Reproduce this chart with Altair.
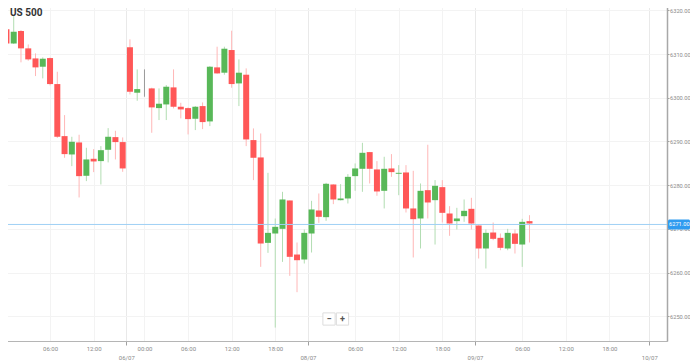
import altair as alt
import pandas as pd

# ---- data (hourly candles) ----
slot = list(range(73))
open_ = [6315.65, 6312.44, 6315.27, 6311.30, 6309.00, 6307.10, 6309.08, 6303.13, 6291.22, 6287.02,
         6289.77, 6282.14, 6286.03, 6285.50, 6288.09, 6290.99, 6289.85, 6311.53, 6301.15, 6302.20,
         6302.14, 6297.63, 6298.47, 6302.37, 6297.94, 6297.63, 6295.19, 6298.09, 6294.58, 6306.95,
         6305.73, 6310.92, 6303.28, 6305.27, 6290.31, 6286.34, 6266.79, 6268.93, 6270.00, 6276.49,
         6264.12, 6262.98, 6268.93, 6274.20, 6272.67, 6280.15, 6276.56, 6276.95, 6282.06, 6283.74,
         6287.56, 6283.59, 6278.70, 6283.82, 6282.60, 6282.90, 6274.66, 6272.37, 6278.85, 6276.56,
         6279.54, 6273.51, 6271.76, 6272.90, 6274.58, 6270.76, 6265.50, 6269.16, 6267.94, 6265.50,
         6268.93, 6266.41, 6271.76]
high = [6316.30, 6318.70, 6315.50, 6312.20, 6310.15, 6309.24, 6309.20, 6305.95, 6296.03, 6291.07,
        6291.53, 6288.55, 6288.24, 6288.93, 6293.05, 6292.44, 6290.92, 6313.36, 6306.49, 6306.49,
        6302.30, 6302.14, 6302.90, 6306.49, 6298.85, 6297.80, 6298.09, 6298.93, 6307.25, 6311.68,
        6311.68, 6315.34, 6308.78, 6306.72, 6292.98, 6291.83, 6282.82, 6272.37, 6278.47, 6276.50,
        6266.87, 6269.85, 6276.41, 6278.09, 6280.53, 6280.20, 6280.23, 6282.52, 6284.96, 6289.69,
        6287.60, 6285.50, 6286.49, 6287.10, 6284.58, 6284.58, 6283.28, 6280.38, 6289.24, 6281.15,
        6281.15, 6275.19, 6274.81, 6276.72, 6277.10, 6270.80, 6269.85, 6271.45, 6268.93, 6270.00,
        6269.85, 6272.29, 6273.13]
low = [6312.00, 6312.30, 6308.10, 6308.47, 6304.96, 6304.43, 6302.82, 6290.80, 6286.26, 6284.35,
       6277.18, 6280.92, 6282.98, 6280.15, 6285.20, 6285.88, 6283.05, 6300.76, 6299.31, 6300.23,
       6291.98, 6294.89, 6294.89, 6297.56, 6295.27, 6291.60, 6292.60, 6292.82, 6293.51, 6305.50,
       6305.27, 6302.29, 6298.09, 6288.93, 6281.15, 6261.30, 6264.50, 6247.40, 6262.44, 6259.24,
       6255.50, 6262.06, 6264.58, 6271.37, 6271.83, 6275.65, 6276.50, 6275.80, 6278.70, 6278.47,
       6280.38, 6277.56, 6274.66, 6281.90, 6277.70, 6273.74, 6263.44, 6265.50, 6272.37, 6266.41,
       6271.45, 6268.40, 6269.85, 6271.60, 6269.85, 6263.21, 6260.92, 6267.40, 6265.11, 6265.10,
       6264.35, 6261.30, 6266.87]
close = [6312.44, 6315.10, 6311.30, 6308.78, 6306.95, 6308.93, 6303.13, 6291.07, 6287.10, 6289.92,
         6282.06, 6285.88, 6285.42, 6288.00, 6291.07, 6289.85, 6283.82, 6301.37, 6301.98, 6302.20,
         6297.79, 6298.63, 6302.52, 6297.94, 6297.33, 6295.11, 6297.94, 6294.43, 6307.10, 6305.57,
         6311.22, 6303.13, 6305.73, 6290.46, 6286.26, 6266.64, 6269.08, 6270.46, 6276.72, 6263.59,
         6262.82, 6269.08, 6274.43, 6272.75, 6280.31, 6276.72, 6276.95, 6281.90, 6283.82, 6287.40,
         6283.74, 6278.55, 6283.74, 6282.98, 6282.82, 6274.66, 6272.21, 6278.70, 6276.03, 6279.85,
         6273.66, 6271.22, 6272.37, 6274.12, 6271.22, 6265.50, 6269.08, 6267.71, 6265.65, 6269.08,
         6266.56, 6271.60, 6271.22]

tick_pos = [6, 12, 16.5, 19, 25, 31, 37, 41.5, 48, 54, 60, 64.5, 71, 77, 83, 88.5]
tick_labels = ["06:00", "12:00", "06/07", "00:00", "06:00", "12:00", "18:00", "08/07",
               "06:00", "12:00", "18:00", "09/07", "06:00", "12:00", "18:00", "10/07"]
tick_is_date = [False, False, True, False, False, False, False, True,
                False, False, False, True, False, False, False, True]
y_ticks = [6250, 6260, 6270, 6280, 6290, 6300, 6310, 6320]
last_price = [6271.0]
title_text = "US 500"
zoom_buttons = ["\u2212", "+"]

# ---- table ----
direction = ["up" if c > o else ("down" if c < o else "flat") for o, c in zip(open_, close)]
df = pd.DataFrame({"i": slot, "open": open_, "high": high, "low": low, "close": close,
                   "dir": direction})

pos_list = ",".join(str(p) for p in tick_pos)
lab_list = ",".join(('["","%s"]' % l) if d else ('"%s"' % l)
                    for l, d in zip(tick_labels, tick_is_date))
label_expr = f"[{lab_list}][indexof([{pos_list}], datum.value)]"
date_pos = ",".join(str(p) for p, d in zip(tick_pos, tick_is_date) if d)
date_test = f"indexof([{date_pos}], datum.value) >= 0"

FONT = "Roboto"
W, H = 667, 341
X_MIN = -0.2
X_MAX = X_MIN + W / 7.375

x_axis = alt.Axis(values=tick_pos, labelExpr=label_expr, labelFont=FONT, labelFontSize=6,
                  labelColor="#8a8a8a", labelPadding=0, labelLineHeight=9,
                  labelOverlap=False, labelFlush=False, labelBound=False,
                  tickSize=4, domainColor="#b5b5b5",
                  tickColor={"condition": {"test": date_test, "value": "#a0a0a0"},
                             "value": "rgba(0,0,0,0)"},
                  gridColor={"condition": {"test": date_test, "value": "#e9e9e9"},
                             "value": "#f3f3f3"},
                  title=None)
y_axis = alt.Axis(orient="right", values=y_ticks, format=".2f", labelFont=FONT,
                  labelFontSize=5.7, labelColor="#8a8a8a", labelPadding=0.5, tickSize=2,
                  tickColor="#a0a0a0", domainColor="#a8a8a8", domainWidth=1.5,
                  gridColor="#f3f3f3", title=None)

xs = alt.Scale(domain=[X_MIN, X_MAX], nice=False, zero=False)
ys = alt.Scale(domain=[6244.33, 6322.37], nice=False, zero=False)
X = alt.X("i:Q", scale=xs, axis=x_axis)

col_wick = alt.Color("dir:N", scale=alt.Scale(domain=["up", "down", "flat"],
                     range=["#b2ddb2", "#ffb7b7", "#9a9a9a"]), legend=None)
col_body = alt.Color("dir:N", scale=alt.Scale(domain=["up", "down", "flat"],
                     range=["#58b858", "#ff5757", "#777777"]), legend=None)

base = alt.Chart(df)
wicks = base.mark_rule(strokeWidth=1).encode(
    x=X, y=alt.Y("low:Q", scale=ys, axis=y_axis), y2="high:Q", color=col_wick)
bodies = base.mark_bar(width=6, minBandSize=1.5).encode(
    x=X, y=alt.Y("open:Q", scale=ys, axis=y_axis), y2="close:Q", color=col_body)

price_df = pd.DataFrame({"p": last_price,
                         "lo": [last_price[0] - 1.15], "hi": [last_price[0] + 1.15],
                         "t": ["%.2f" % last_price[0]]})
price_line = alt.Chart(price_df).mark_rule(color="#9fd0f5", strokeWidth=1).encode(
    y=alt.Y("p:Q", scale=ys, axis=y_axis))
price_box = alt.Chart(price_df).mark_rect(color="#2f9bf0", cornerRadius=1.5).encode(
    x=alt.value(W + 1), x2=alt.value(W + 23),
    y=alt.Y("lo:Q", scale=ys, axis=y_axis), y2="hi:Q")
price_text = alt.Chart(price_df).mark_text(font=FONT, fontSize=5.7, color="white",
                                           align="left", baseline="middle").encode(
    x=alt.value(W + 2), y=alt.Y("p:Q", scale=ys, axis=y_axis), text="t:N")

title = alt.Chart(pd.DataFrame({"t": [title_text]})).mark_text(
    font=FONT, fontSize=10, fontWeight="bold", color="#333333",
    align="left", baseline="alphabetic").encode(
    x=alt.value(10), y=alt.value(16), text="t:N")

main = alt.layer(wicks, bodies, price_line, price_box, price_text, title).resolve_scale(
    color="independent")

btn_df = pd.DataFrame({"s": zoom_buttons, "k": [0, 1]})
bscale = alt.Scale(domain=[0, 1], range=[329, 342.5])
btn_box = alt.Chart(btn_df).mark_square(size=150, shape="square", fill="white",
                                        stroke="#dddddd", strokeWidth=1, opacity=1).encode(
    x=alt.X("k:Q", scale=bscale, axis=None), y=alt.value(319))
btn_txt = alt.Chart(btn_df).mark_text(
    font=FONT, fontSize=9, fontWeight="bold", color="#555555", baseline="middle").encode(
    x=alt.X("k:Q", scale=bscale, axis=None), y=alt.value(319), text="s:N")
buttons = alt.layer(btn_box, btn_txt)

chart = alt.layer(main, buttons).resolve_scale(x="independent").properties(
    width=W, height=H,
    autosize=alt.AutoSizeParams(type="none"),
    padding={"left": -8, "top": -8, "right": 682 - W + 8, "bottom": 20},
).configure_view(stroke="#e6e6e6", strokeWidth=1).configure(background="white")

chart.save("out.html", embed_options={"renderer": "svg", "actions": False})
